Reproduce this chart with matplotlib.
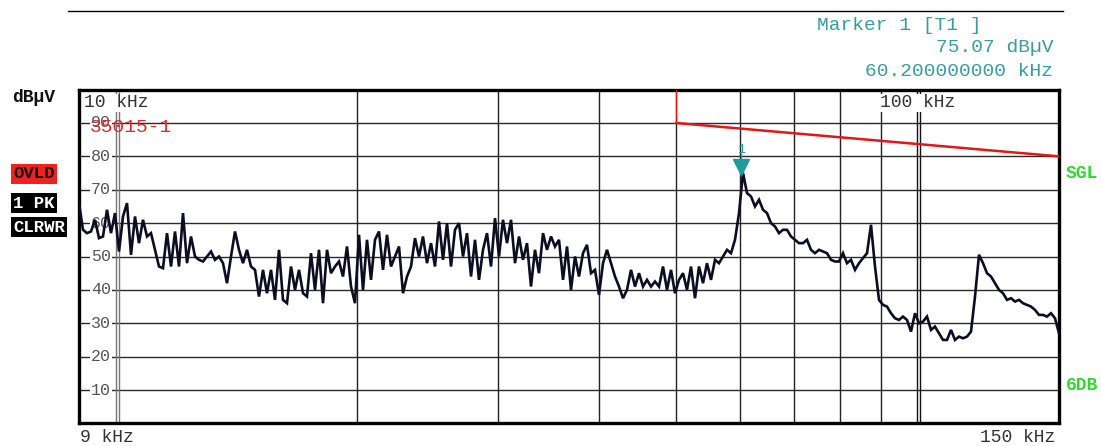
import numpy as np
import matplotlib
matplotlib.use("Agg")
import matplotlib.pyplot as plt
from matplotlib.transforms import blended_transform_factory

# ---------------- data ----------------
f_start_khz = 9.0
f_stop_khz = 150.0
level_dbuv = [
    66, 58, 57, 57.5, 61, 55.5, 56, 64, 57, 63,
    51.5, 62, 66, 50.5, 62, 54, 61, 56, 57, 52,
    47, 46.5, 57, 47, 57.5, 47, 63, 48, 56, 50,
    49, 48.5, 50, 51.5, 49, 50, 48, 42, 50, 57.5,
    52, 48, 52, 47, 46, 38, 46, 39, 46, 37,
    52, 37, 36, 47, 40, 46, 39, 38, 51, 40,
    52, 36, 52, 45, 47, 48.5, 44, 53, 41, 36,
    56.5, 40, 55, 43, 55, 57.5, 46, 56.5, 47, 50,
    53, 39, 44, 47, 55.5, 50, 56, 48, 54, 47,
    60.5, 49, 60, 47, 58, 60, 50, 57, 44, 55,
    43, 52, 57, 47, 61.5, 50, 61, 54, 61, 48,
    56, 49, 54, 41, 52, 45, 57, 52, 56, 53,
    55, 43, 53, 40, 50, 44, 51, 53.5, 45, 46,
    38.5, 48, 52, 48, 44, 41, 37.5, 40, 46, 41,
    45, 41, 43, 41, 42.5, 41, 47, 40, 46, 39,
    43, 45, 40, 47, 37.5, 47, 42, 48, 43, 49,
    48, 50, 52, 51, 55, 63, 75.07, 69, 68, 65,
    67, 64, 63, 60, 59, 57, 58, 58, 56, 55,
    54, 54, 55, 52, 51, 52, 51.5, 51, 49, 48.5,
    48.5, 51, 48, 49, 46, 48, 49.5, 51, 59.5, 47,
    37, 35.5, 35, 33, 31.5, 31, 32, 31, 27.5, 33,
    30, 30.5, 32, 28, 29, 27, 25, 25, 28, 25,
    26, 25.5, 26, 27.5, 38, 50.5, 48, 45, 44, 42,
    40, 39, 37, 37.5, 36.5, 37, 36, 35.5, 35, 34,
    32.5, 32.5, 32, 33, 31.5, 27,
]
# analyzer sweep points (log sweep from start to stop)
sweep_khz = np.geomspace(f_start_khz, f_stop_khz, len(level_dbuv))

limit_khz = [50, 150]
limit_dbuv = [90, 80]

marker_khz = 60.2
marker_dbuv = 75.07

y_ticks = [10, 20, 30, 40, 50, 60, 70, 80, 90]
x_grid_khz = [10, 20, 30, 40, 50, 60, 70, 80, 90, 100]

# ---------------- figure ----------------
W, H = 1101, 446
fig = plt.figure(figsize=(W / 100, H / 100), dpi=100)
fig.patch.set_facecolor("white")

def fx(x):
    return x / W

def fy(y):
    return 1 - y / H

left, right, top, bottom = 79, 1059, 89.6, 423.4
ax = fig.add_axes([fx(left), fy(bottom), (right - left) / W, (bottom - top) / H])
ax.set_xscale("log")
ax.set_xlim(f_start_khz, f_stop_khz)
ax.set_ylim(0, 100)
ax.set_xticks([])
ax.set_yticks([])
ax.minorticks_off()
for s in ax.spines.values():
    s.set_linewidth(2.4)
    s.set_color("black")

mono = "Liberation Mono"

# grid
for yv in y_ticks:
    ax.axhline(yv, color="#2a2a2a", lw=1.0, zorder=1)
for xv in x_grid_khz:
    if xv == 10:
        ax.axvline(xv * 1.002, color="#777777", lw=1.0, zorder=1)
        ax.axvline(xv * 1.009, color="#777777", lw=1.0, zorder=1)
    elif xv == 100:
        ax.axvline(xv * 0.999, color="#111111", lw=1.0, zorder=1)
        ax.axvline(xv * 1.007, color="#111111", lw=1.0, zorder=1)
    else:
        ax.axvline(xv, color="#222222", lw=1.0, zorder=1)

# y tick labels inside the frame
tr = blended_transform_factory(ax.transAxes, ax.transData)
for yv in y_ticks:
    ax.text(0.0225, yv, f"{yv}", transform=tr, ha="center", va="center",
            fontsize=12, family=mono, color="#555555", zorder=2,
            bbox=dict(boxstyle="square,pad=0.05", fc="white", ec="none"))

# frequency labels at top inside
ax.text(0.005, 0.96, "10 kHz", transform=ax.transAxes, ha="left", va="center",
        fontsize=13, family=mono, color="#333333", zorder=2,
        bbox=dict(boxstyle="square,pad=0.05", fc="white", ec="none"))
ax.text(0.817, 0.96, "100 kHz", transform=ax.transAxes, ha="left", va="center",
        fontsize=13, family=mono, color="#333333", zorder=2,
        bbox=dict(boxstyle="square,pad=0.05", fc="white", ec="none"))

# limit line
ax.plot(limit_khz, limit_dbuv, color="#e01818", lw=1.8, zorder=3)
ax.plot([limit_khz[0], limit_khz[0]], [limit_dbuv[0], 100], color="#e01818", lw=0.9, zorder=3)
ax.text(0.011, 0.885, "35015-1", transform=ax.transAxes, ha="left", va="center",
        fontsize=14, family=mono, color="#d03030", zorder=4)

# trace
ax.plot(sweep_khz, level_dbuv, color="#0d0d22", lw=1.9, zorder=5,
        solid_joinstyle="miter")

# marker
ax.plot([marker_khz], [marker_dbuv + 1.8], marker="v", ms=11, color="#1f9a9a",
        mec="#1f9a9a", zorder=6, ls="none")
ax.plot([marker_khz, marker_khz], [marker_dbuv + 3, marker_dbuv + 5.5],
        color="#1f9a9a", lw=1, zorder=6)
ax.text(marker_khz, marker_dbuv + 6.8, "1", ha="center", va="center",
        fontsize=9.5, family=mono, color="#1f9a9a", zorder=6)

# ---------------- figure-level text ----------------
fig.add_artist(plt.Line2D([fx(68), fx(1063)], [fy(11), fy(11)], color="black", lw=1.0))

teal = "#3a9c9c"
fig.text(fx(817), fy(25), "Marker 1 [T1 ]", ha="left", va="center",
         fontsize=14, family=mono, color=teal)
fig.text(fx(1053), fy(48), "75.07 dB\u00b5V", ha="right", va="center",
         fontsize=14, family=mono, color=teal)
fig.text(fx(1053), fy(71), "60.200000000 kHz", ha="right", va="center",
         fontsize=14, family=mono, color=teal)

fig.text(fx(12), fy(97), "dB\u00b5V", ha="left", va="center",
         fontsize=13, family=mono, weight="bold", color="#111111")

fig.text(fx(13), fy(174), "OVLD", ha="left", va="center",
         fontsize=12.5, family=mono, weight="bold", color="#111111",
         bbox=dict(boxstyle="square,pad=0.12", fc="#ee2222", ec="none"))
fig.text(fx(13), fy(203), "1 PK", ha="left", va="center",
         fontsize=12.5, family=mono, weight="bold", color="white",
         bbox=dict(boxstyle="square,pad=0.12", fc="black", ec="none"))
fig.text(fx(13), fy(227), "CLRWR", ha="left", va="center",
         fontsize=12.5, family=mono, weight="bold", color="white",
         bbox=dict(boxstyle="square,pad=0.12", fc="black", ec="none"))

green = "#33d633"
fig.text(fx(1066), fy(174), "SGL", ha="left", va="center",
         fontsize=13, family=mono, weight="bold", color=green)
fig.text(fx(1066), fy(386), "6DB", ha="left", va="center",
         fontsize=13, family=mono, weight="bold", color=green)

fig.text(fx(80), fy(437), "9 kHz", ha="left", va="center",
         fontsize=13, family=mono, color="#333333")
fig.text(fx(1055), fy(437), "150 kHz", ha="right", va="center",
         fontsize=13, family=mono, color="#333333")

fig.savefig("out.png", dpi=100, facecolor="white")
